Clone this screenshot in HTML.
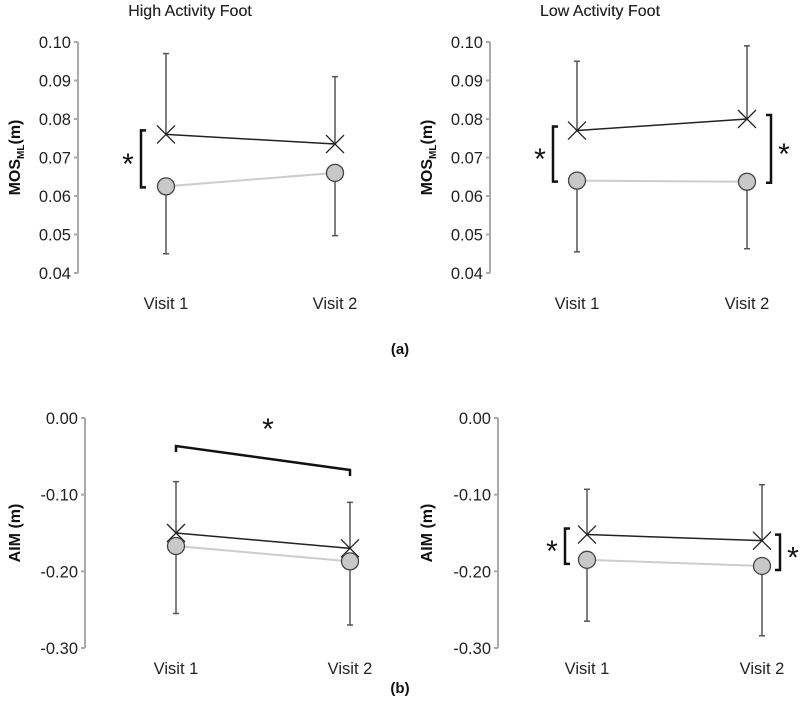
<!DOCTYPE html>
<html><head><meta charset="utf-8"><style>
body{margin:0;background:#fff}
svg{display:block;font-family:"Liberation Sans",sans-serif}
</style></head><body>
<svg id="c" width="800" height="713" viewBox="0 0 800 713"></svg>
<script>
const categories=["Visit 1","Visit 2"];
const topTicks=["0.10","0.09","0.08","0.07","0.06","0.05","0.04"];
const botTicks=["0.00","-0.10","-0.20","-0.30"];
const hlMosCross=[0.076,0.0735], hlMosCrossErr=[0.097,0.091];
const hlMosCircle=[0.0625,0.066], hlMosCircleErr=[0.045,0.0497];
const llMosCross=[0.077,0.080], llMosCrossErr=[0.095,0.099];
const llMosCircle=[0.064,0.0637], llMosCircleErr=[0.0455,0.0463];
const hlAimCross=[-0.150,-0.170], hlAimCrossErr=[-0.083,-0.110];
const hlAimCircle=[-0.167,-0.187], hlAimCircleErr=[-0.255,-0.270];
const llAimCross=[-0.152,-0.160], llAimCrossErr=[-0.093,-0.087];
const llAimCircle=[-0.185,-0.193], llAimCircleErr=[-0.265,-0.284];
const NS="http://www.w3.org/2000/svg";
const svg=document.getElementById('c');
function mk(tag,attrs,parent,text){const e=document.createElementNS(NS,tag);for(const k in attrs)e.setAttribute(k,attrs[k]);if(text!==undefined)e.textContent=text;(parent||svg).appendChild(e);return e;}
function panel(o){
  const g=mk('g',{});
  
  
  const y=v=>o.y0+(o.vmax-v)/(o.vmax-o.vmin)*(o.y1-o.y0);
  const x=i=>o.xs[i];
  const t=mk('text',{x:o.titleX,y:16,'font-size':16,'text-anchor':'middle',fill:'#222'},g,o.title);
  
  
  const ax=mk('line',{x1:o.ax,x2:o.ax,y1:o.y0,y2:o.y1,stroke:'#aaa','stroke-width':2},g);
  
  
  o.ticks.forEach(tk=>{const v=parseFloat(tk);
    mk('line',{x1:o.ax-4,x2:o.ax,y1:y(v),y2:y(v),stroke:'#aaa','stroke-width':2},g);
    const tl=mk('text',{x:o.ax-7,y:y(v)+6,'font-size':16.5,'text-anchor':'end',fill:'#222'},g,tk);
    
    
  });
  const cy=(o.y0+o.y1)/2;
  const yt=mk('text',{transform:`translate(${o.ylx},${cy}) rotate(-90)`,'font-size':16,'font-weight':'bold','text-anchor':'middle',fill:'#111'},g);
  
  
  if(o.mos){mk('tspan',{},yt,'MOS');mk('tspan',{'font-size':10,dy:4},yt,'ML');mk('tspan',{dy:-4},yt,'(m)');}
  else yt.textContent='AIM (m)';
  categories.forEach((c,i)=>{const l=mk('text',{x:x(i),y:o.catY,'font-size':16.5,'text-anchor':'middle',fill:'#222'},g,c);
    
    });
  categories.forEach((c,i)=>{
    [[o.cross[i],o.crossErr[i]],[o.circ[i],o.circErr[i]]].forEach(p=>{
      const e=mk('line',{x1:x(i),x2:x(i),y1:y(p[0]),y2:y(p[1]),stroke:'#555','stroke-width':1.5},g);
      
      
      mk('line',{x1:x(i)-3,x2:x(i)+3,y1:y(p[1]),y2:y(p[1]),stroke:'#555','stroke-width':1.5},g);
    });
  });
  const l2=mk('line',{x1:x(0),x2:x(1),y1:y(o.circ[0]),y2:y(o.circ[1]),stroke:'#ccc','stroke-width':2},g);
  
  
  const l1=mk('line',{x1:x(0),x2:x(1),y1:y(o.cross[0]),y2:y(o.cross[1]),stroke:'#222','stroke-width':1.5},g);
  
  
  categories.forEach((c,i)=>{
    const px=x(i),py=y(o.cross[i]);
    const m=mk('path',{d:`M${px-9} ${py-9}L${px+9} ${py+9}M${px-9} ${py+9}L${px+9} ${py-9}`,stroke:'#222','stroke-width':1.3,fill:'none'},g);
    
    
    const cc=mk('circle',{cx:px,cy:y(o.circ[i]),r:8.5,fill:'#c8c8c8',stroke:'#444','stroke-width':1.3},g);
    
    
  });
  (o.brackets||[]).forEach(b=>{
    const ya=y(o.cross[b.i])+b.pad, yb=y(o.circ[b.i])-b.pad2;
    const d=b.side<0?`M${b.x+5} ${ya}H${b.x}V${yb}H${b.x+5}`:`M${b.x-5} ${ya}H${b.x}V${yb}H${b.x-5}`;
    const br=mk('path',{d:d,stroke:'#111','stroke-width':2.5,fill:'none'},g);
    
    
    const s=mk('text',{x:b.x+b.side*13,y:(ya+yb)/2+15,'font-size':30,'text-anchor':'middle',fill:'#111'},g,'*');
    
    
  });
  return {g,x,y};
}
panel({name:'panel-high-mos',title:'High Activity Foot',titleX:190,ax:78,y0:42,y1:273,vmax:0.10,vmin:0.04,ticks:topTicks,xs:[166,335],ylx:20,mos:true,catY:309,
  cross:hlMosCross,crossErr:hlMosCrossErr,circ:hlMosCircle,circErr:hlMosCircleErr,brackets:[{i:0,x:141,side:-1,pad:-4,pad2:-1}]});
panel({name:'panel-low-mos',title:'Low Activity Foot',titleX:600,ax:490,y0:42,y1:273,vmax:0.10,vmin:0.04,ticks:topTicks,xs:[577,747],ylx:432,mos:true,catY:309,
  cross:llMosCross,crossErr:llMosCrossErr,circ:llMosCircle,circErr:llMosCircleErr,brackets:[{i:0,x:553,side:-1,pad:-4,pad2:-1},{i:1,x:771,side:1,pad:-4,pad2:-1}]});
panel({name:'panel-high-aim',title:'High Activity Foot',titleX:190,ax:85,y0:418,y1:648,vmax:0,vmin:-0.30,ticks:botTicks,xs:[176,350],ylx:20,mos:false,catY:674,
  cross:hlAimCross,crossErr:hlAimCrossErr,circ:hlAimCircle,circErr:hlAimCircleErr,brackets:[]});
const bb=mk('path',{d:'M176 452L176 446L350 470L350 476',stroke:'#111','stroke-width':2.5,fill:'none'});


const bs=mk('text',{x:268,y:439,'font-size':30,'text-anchor':'middle',fill:'#111'},svg,'*');


panel({name:'panel-low-aim',title:'Low Activity Foot',titleX:600,ax:498,y0:418,y1:648,vmax:0,vmin:-0.30,ticks:botTicks,xs:[587,762],ylx:432,mos:false,catY:674,
  cross:llAimCross,crossErr:llAimCrossErr,circ:llAimCircle,circErr:llAimCircleErr,brackets:[{i:0,x:565,side:-1,pad:-6,pad2:-4},{i:1,x:780,side:1,pad:-6,pad2:-4}]});
const la=mk('text',{x:400,y:354,'font-size':15,'font-weight':'bold','text-anchor':'middle',fill:'#111'},svg,'(a)');


const lb=mk('text',{x:400,y:693,'font-size':15,'font-weight':'bold','text-anchor':'middle',fill:'#111'},svg,'(b)');


</script>
</body></html>
